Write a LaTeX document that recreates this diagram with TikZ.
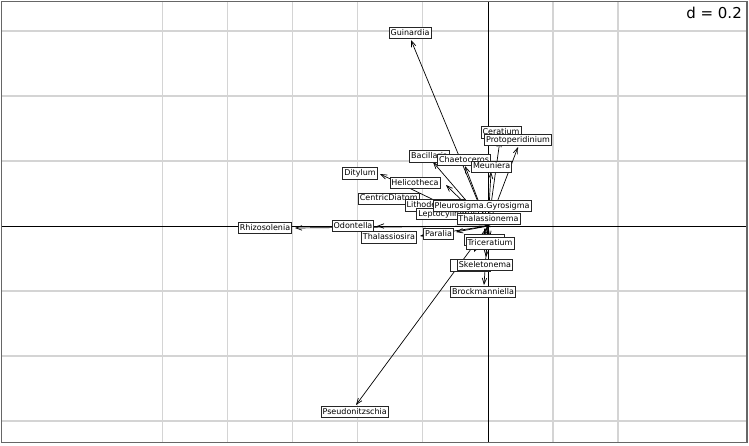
\documentclass[tikz,border=0pt]{standalone}
\usepackage{fontspec}
\setmainfont{DejaVu Sans}
\usetikzlibrary{arrows.meta}
\begin{document}
\begin{tikzpicture}[x=1pt,y=-1pt,
  gridline/.style={draw=black!17, line width=1.2pt},
  axisline/.style={draw=black, line width=0.9pt},
  vec/.style={draw=black, line width=0.7pt, -{Straight Barb[length=6pt,width=4.5pt]}},
  lab/.style={draw=black!85, fill=white, line width=0.8pt, font=\fontsize{8}{9}\selectfont,
    inner xsep=1.5pt, inner ysep=1.6pt, text height=6.2pt, text depth=1.9pt},
  hidlab/.style={lab, minimum width=#1},
  dlab/.style={fill=white, inner sep=1pt, font=\fontsize{15}{17}\selectfont}]
\useasboundingbox (0,0) rectangle (749,445);
\fill[white] (0,0) rectangle (749,445);
% grid
\foreach \gx in {162.5,227.5,292.5,357.5,422.5,553,618}
  \draw[gridline] (\gx,1.5) -- (\gx,442.5);
\foreach \gy in {31,96,161,291,356,421}
  \draw[gridline] (1.5,\gy) -- (747,\gy);
% axes
\draw[axisline] (1.5,226) -- (747,226);
\draw[axisline] (488,1.5) -- (488,442.5);
% origin and arrow tips
\coordinate (O) at (488,226);
\coordinate (tGui) at (411,40);
\coordinate (tCer) at (500,140);
\coordinate (tPro) at (518,147);
\coordinate (tBac) at (433,162);
\coordinate (tCha) at (465,166);
\coordinate (tMeu) at (491,172);
\coordinate (tDit) at (380,174);
\coordinate (tHel) at (446,185);
\coordinate (tCen) at (418,200);
\coordinate (tLit) at (440,205);
\coordinate (tLep) at (452,214);
\coordinate (tPle) at (484,205);
\coordinate (tTha) at (489,220);
\coordinate (tOdo) at (377,226);
\coordinate (tRhi) at (295,228);
\coordinate (tTsi) at (420,236);
\coordinate (tPar) at (456,232);
\coordinate (tHa) at (484,236);
\coordinate (tTri) at (490,238);
\coordinate (tHb) at (474,252);
\coordinate (tSke) at (486,257);
\coordinate (tBro) at (484,285);
\coordinate (tPse) at (356,405);
\foreach \t in {tGui,tCer,tPro,tBac,tCha,tMeu,tDit,tHel,tCen,tLit,tLep,tPle,tTha,tOdo,tRhi,tTsi,tPar,tHa,tTri,tHb,tSke,tBro,tPse}
  \draw[vec] (O) -- (\t);
% labels
\node[lab] (Gui) at (410,33) {Guinardia};
\node[lab] (Cer) at (501,132.5) {Ceratium};
\node[lab] (Pro) at (518,140) {Protoperidinium};
\node[lab] (Bac) at (429.5,156.5) {Bacillaria};
\node[lab] (Cha) at (464,160) {Chaetoceros};
\node[lab] (Meu) at (491.7,166.7) {Meuniera};
\node[lab] (Dit) at (360,173.3) {Ditylum};
\node[lab] (Hel) at (415,183) {Helicotheca};
\node[lab] (Cen) at (388.7,198.8) {CentricDiatom};
\node[lab] (Lit) at (435,205.3) {Lithodesmium};
\node[lab] (Lep) at (447.6,214.2) {Leptocylindrus};
\node[lab] (Ple) at (482,206) {Pleurosigma.Gyrosigma};
\node[lab] (Tha) at (488.5,219) {Thalassionema};
\node[lab] (Odo) at (353,226) {Odontella};
\node[lab] (Rhi) at (265,228) {Rhizosolenia};
\node[lab] (Tsi) at (389,237.5) {Thalassiosira};
\node[lab] (Par) at (438.5,234) {Paralia};
\node[hidlab=40pt] (Ha) at (484,240) {};
\node[lab] (Tri) at (490,243.3) {Triceratium};
\node[hidlab=40pt] (Hb) at (470.5,265.5) {};
\node[lab] (Ske) at (485,265) {Skeletonema};
\node[lab] (Bro) at (483,292) {Brockmanniella};
\node[lab] (Pse) at (354.7,412) {Pseudonitzschia};
% scale label
\node[dlab, anchor=east] (dl) at (743,12.5) {d = 0.2};
% frame
\draw[draw=black!60, line width=1.5pt] (1.5,1.5) rectangle (747,442.5);
\end{tikzpicture}
\end{document}
